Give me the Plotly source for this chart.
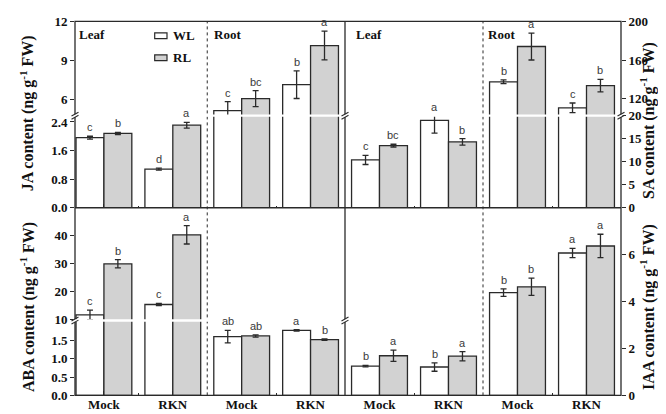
import plotly.graph_objects as go

# ---------------- data ----------------
categories = ["Mock", "RKN", "Mock", "RKN"]   # Leaf Mock, Leaf RKN, Root Mock, Root RKN
tissues = ["Leaf", "Root"]
series_names = ["WL", "RL"]

ja_wl = [1.96, 1.08, 5.14, 7.14]
ja_wl_err = [0.04, 0.03, 0.70, 1.06]
ja_rl = [2.08, 2.31, 6.07, 10.15]
ja_rl_err = [0.03, 0.08, 0.62, 1.10]
ja_wl_sig = ["c", "d", "c", "b"]
ja_rl_sig = ["b", "a", "bc", "a"]

sa_wl = [10.4, 19.0, 137.4, 110.4]
sa_wl_err = [1.0, 2.8, 2.0, 5.0]
sa_rl = [13.5, 14.3, 174.0, 133.4]
sa_rl_err = [0.3, 0.7, 14.0, 6.5]
sa_wl_sig = ["c", "a", "b", "c"]
sa_rl_sig = ["bc", "b", "a", "b"]

aba_wl = [11.6, 15.3, 1.60, 1.77]
aba_wl_err = [1.7, 0.4, 0.17, 0.02]
aba_rl = [29.9, 40.3, 1.62, 1.52]
aba_rl_err = [1.5, 3.3, 0.03, 0.02]
aba_wl_sig = ["c", "c", "ab", "a"]
aba_rl_sig = ["b", "a", "ab", "b"]

iaa_wl = [1.25, 1.21, 4.38, 6.07]
iaa_wl_err = [0.03, 0.18, 0.16, 0.20]
iaa_rl = [1.69, 1.67, 4.63, 6.37]
iaa_rl_err = [0.24, 0.20, 0.37, 0.50]
iaa_wl_sig = ["b", "b", "b", "a"]
iaa_rl_sig = ["a", "a", "b", "a"]

# ---------------- geometry (pixels) ----------------
W, H = 666, 414
L, M, R = 67, 337, 613
T, MID, B = 6.7, 200, 394.7
BRK_TOP, BRK_BOT = 104.5, 317


def fx(px):
    return px / W


def fy(py):
    return (H - py) / H


LINE = "#2a2a2a"
GRAY = "#d2d2d2"
SERIF = "Liberation Serif"
SANS = "Liberation Sans"
BARGAP = 0.19
BW = (1 - BARGAP) / 2

xs = list(range(len(categories)))
fig = go.Figure()

annots = []


def add_panel(xa, segs, wl, wl_e, rl, rl_e, wl_s, rl_s):
    # segs: list of (yaxis_name, lo, hi)
    for ya, lo, hi in segs:
        for name, vals, errs, col in (("WL", wl, wl_e, "white"), ("RL", rl, rl_e, GRAY)):
            fig.add_trace(go.Bar(
                x=xs, y=vals, name=name, xaxis=xa, yaxis=ya, showlegend=False,
                marker=dict(color=col, line=dict(color=LINE, width=1.3)),
                error_y=dict(type="data", array=errs, color=LINE, thickness=1.3, width=3),
            ))
    for vals, errs, sigs, off in ((wl, wl_e, wl_s, -BW / 2), (rl, rl_e, rl_s, BW / 2)):
        for i, (v, e, s) in enumerate(zip(vals, errs, sigs)):
            top = v + e
            ya, ytop = segs[0][0], min(top, segs[0][2])
            for name, lo, hi in segs:
                if lo <= top <= hi:
                    ya, ytop = name, top
            annots.append(dict(x=i + off, y=ytop, xref=xa, yref=ya, text=s, showarrow=False,
                               yanchor="bottom", yshift=1,
                               font=dict(family=SANS, size=11, color="#3a3a3a")))


# JA: y (lower), y2 (upper) on x
add_panel("x", [("y", 0, 2.575), ("y2", 4.756, 12.0)], ja_wl, ja_wl_err, ja_rl, ja_rl_err, ja_wl_sig, ja_rl_sig)
# ABA: y3 (lower), y4 (upper) on x2
add_panel("x2", [("y3", 0, 2.04), ("y4", 9.55, 50)], aba_wl, aba_wl_err, aba_rl, aba_rl_err, aba_wl_sig, aba_rl_sig)
# SA: y5 (lower), y6 (upper) on x3
add_panel("x3", [("y5", 0, 20), ("y6", 102.2, 200)], sa_wl, sa_wl_err, sa_rl, sa_rl_err, sa_wl_sig, sa_rl_sig)
# IAA: y7 on x4
add_panel("x4", [("y7", 0, 8)], iaa_wl, iaa_wl_err, iaa_rl, iaa_rl_err, iaa_wl_sig, iaa_rl_sig)

tickfont = dict(family=SERIF, size=13, color="#111", weight="bold")
common_y = dict(showgrid=False, zeroline=False, showline=False, ticks="outside", ticklen=4,
                tickwidth=1, tickcolor=LINE, tickfont=tickfont)
common_x = dict(showgrid=False, zeroline=False, showline=False, ticks="inside", ticklen=4,
                tickwidth=1, tickcolor=LINE, tickvals=xs, ticktext=categories, tickfont=tickfont,
                minor=dict(tickvals=[0.5, 2.5], ticks="inside", ticklen=2, tickcolor=LINE))

fig.update_layout(
    width=W, height=H, autosize=False,
    margin=dict(l=0, r=0, t=0, b=0),
    paper_bgcolor="white", plot_bgcolor="white",
    barmode="group", bargap=BARGAP, bargroupgap=0,
    showlegend=False,
    xaxis=dict(domain=[fx(L), fx(M)], range=[-0.42, 3.5], anchor="y", showticklabels=False, **common_x),
    xaxis2=dict(domain=[fx(L), fx(M)], range=[-0.42, 3.5], anchor="y3", showticklabels=True, **common_x),
    xaxis3=dict(domain=[fx(M), fx(R)], range=[-0.5, 3.5], anchor="y5", showticklabels=False, **common_x),
    xaxis4=dict(domain=[fx(M), fx(R)], range=[-0.5, 3.5], anchor="y7", showticklabels=True, **common_x),
    yaxis=dict(domain=[fy(MID), fy(BRK_TOP)], range=[0, 2.575], anchor="x", tickvals=[0, 0.8, 1.6, 2.4],
               tickformat=".1f", **common_y),
    yaxis2=dict(domain=[fy(BRK_TOP), fy(T)], range=[4.756, 12.0], anchor="x", tickvals=[6, 9, 12], **common_y),
    yaxis3=dict(domain=[fy(B), fy(BRK_BOT)], range=[0, 2.04], anchor="x2", tickvals=[0, 0.5, 1.0, 1.5],
                tickformat=".1f", **common_y),
    yaxis4=dict(domain=[fy(BRK_BOT), fy(MID)], range=[9.55, 50], anchor="x2", tickvals=[10, 20, 30, 40], **common_y),
    yaxis5=dict(domain=[fy(MID), fy(BRK_TOP)], range=[0, 20], anchor="x3", side="right",
                tickvals=[0, 5, 10, 15, 20], **common_y),
    yaxis6=dict(domain=[fy(BRK_TOP), fy(T)], range=[102.2, 200], anchor="x3", side="right",
                tickvals=[120, 160, 200], **common_y),
    yaxis7=dict(domain=[fy(B), fy(MID)], range=[0, 8], anchor="x4", side="right",
                tickvals=[0, 2, 4, 6], **common_y),
)

shapes = []
# frame
shapes.append(dict(type="rect", xref="paper", yref="paper", x0=fx(L), x1=fx(R), y0=fy(B), y1=fy(T),
                   line=dict(color=LINE, width=1.3), layer="above"))
shapes.append(dict(type="line", xref="paper", yref="paper", x0=fx(L), x1=fx(R), y0=fy(MID), y1=fy(MID),
                   line=dict(color=LINE, width=1.3), layer="above"))
shapes.append(dict(type="line", xref="paper", yref="paper", x0=fx(M), x1=fx(M), y0=fy(B), y1=fy(T),
                   line=dict(color=LINE, width=1.3), layer="above"))
# dotted tissue separators (between category 1 and 2)
for xa in ("x", "x3"):
    shapes.append(dict(type="line", xref=xa, yref="paper", x0=1.5, x1=1.5, y0=fy(B), y1=fy(T),
                       line=dict(color=LINE, width=1, dash="dot"), layer="above"))
# white break bands
for (x0, x1, yb) in ((L, M, BRK_TOP), (M, R, BRK_TOP), (L, M, BRK_BOT)):
    shapes.append(dict(type="rect", xref="paper", yref="paper", x0=fx(x0 + 0.9), x1=fx(x1 - 0.9),
                       y0=fy(yb + 1.2), y1=fy(yb - 1.2), fillcolor="white", line=dict(width=0), layer="above"))
# break marks on axes
for (bx, by) in ((L, BRK_TOP), (M, BRK_TOP), (R, BRK_TOP), (L, BRK_BOT), (M, BRK_BOT)):
    shapes.append(dict(type="rect", xref="paper", yref="paper", x0=fx(bx - 1.5), x1=fx(bx + 1.5),
                       y0=fy(by + 1.5), y1=fy(by - 1.5), fillcolor="white", line=dict(width=0), layer="above"))
    for dy in (-1.6, 1.6):
        shapes.append(dict(type="line", xref="paper", yref="paper", x0=fx(bx - 3.5), x1=fx(bx + 3.5),
                           y0=fy(by + dy + 2), y1=fy(by + dy - 2), line=dict(color=LINE, width=1.1),
                           layer="above"))
# legend keys
shapes.append(dict(type="rect", xref="paper", yref="paper", x0=fx(146.7), x1=fx(159), y0=fy(24.5), y1=fy(18.5),
                   fillcolor="white", line=dict(color=LINE, width=1.2), layer="above"))
shapes.append(dict(type="rect", xref="paper", yref="paper", x0=fx(146.7), x1=fx(159), y0=fy(47.3), y1=fy(41.3),
                   fillcolor=GRAY, line=dict(color=LINE, width=1.2), layer="above"))

labfont = dict(family=SERIF, size=13, color="#111", weight="bold")
for name, yy in zip(series_names, (21.5, 44.3)):
    annots.append(dict(x=fx(163), y=fy(yy), xref="paper", yref="paper", text=name, showarrow=False,
                       xanchor="left", yanchor="middle", font=labfont))
for xp, t in ((69, tissues[0]), (204, tissues[1]), (345.5, tissues[0]), (477.5, tissues[1])):
    annots.append(dict(x=fx(xp), y=fy(20.5), xref="paper", yref="paper", text=t, showarrow=False,
                       xanchor="left", yanchor="middle", font=labfont))

titlefont = dict(family=SERIF, size=16, color="#111", weight="bold")
for xp, yp, t in ((19, 102, "JA content (ng g<sup>-1</sup> FW)"),
                  (19, 303, "ABA content (ng g<sup>-1</sup> FW)"),
                  (639, 110, "SA content (ng g<sup>-1</sup> FW)"),
                  (639, 303, "IAA content (ng g<sup>-1</sup> FW)")):
    annots.append(dict(x=fx(xp), y=fy(yp), xref="paper", yref="paper", text=t, showarrow=False,
                       textangle=-90, xanchor="center", yanchor="middle", font=titlefont))

fig.update_layout(shapes=shapes, annotations=annots)
fig.write_html("out.html")
